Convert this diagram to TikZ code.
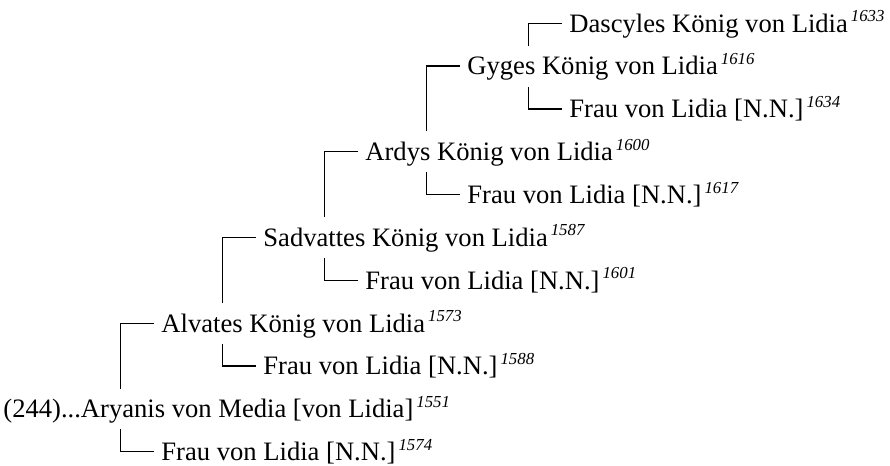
\documentclass[tikz,border=0pt]{standalone}
\usepackage{fontspec}
\setmainfont{Liberation Serif}
\usepackage{tikz}
\newcommand\yr[1]{\kern1.5pt\raisebox{5.2pt}{\fontsize{8.4}{9}\selectfont\itshape #1}}
\tikzset{person/.style={anchor=west, inner xsep=3.5pt, inner ysep=5.6pt, text height=8.8pt, text depth=0pt, font=\fontsize{13.3}{15}\selectfont},
  link/.style={line width=0.65pt}}

\begin{document}
\begin{tikzpicture}[x=0.5pt,y=-0.5pt]
  \useasboundingbox (0,0) rectangle (890,466);
  \node[person] (dascyles) at (562,23.3) {Dascyles König von Lidia\yr{1633}};
  \node[person] (gyges) at (460,66.1) {Gyges König von Lidia\yr{1616}};
  \node[person] (frauG) at (562,109.0) {Frau von Lidia [N.N.]\yr{1634}};
  \node[person] (ardys) at (358,151.8) {Ardys König von Lidia\yr{1600}};
  \node[person] (frauAr) at (460,194.7) {Frau von Lidia [N.N.]\yr{1617}};
  \node[person] (sadvattes) at (256,237.5) {Sadvattes König von Lidia\yr{1587}};
  \node[person] (frauS) at (358,280.3) {Frau von Lidia [N.N.]\yr{1601}};
  \node[person] (alvates) at (154,323.2) {Alvates König von Lidia\yr{1573}};
  \node[person] (frauAl) at (256,366.0) {Frau von Lidia [N.N.]\yr{1588}};
  \node[person] (aryanis) at (-4,408.9) {(244)...Aryanis von Media [von Lidia]\yr{1551}};
  \node[person] (frauAy) at (154,451.7) {Frau von Lidia [N.N.]\yr{1574}};
  % elbow links: child -> parent
  \foreach \c/\p/\s in {alvates/aryanis/north, frauAy/aryanis/south, sadvattes/alvates/north, frauAl/alvates/south,
    ardys/sadvattes/north, frauS/sadvattes/south, gyges/ardys/north, frauAr/ardys/south, dascyles/gyges/north, frauG/gyges/south}
    \draw[link] (\c.west) -| ([xshift=-16.65pt]\c.west |- \p.\s);
\end{tikzpicture}
\end{document}
